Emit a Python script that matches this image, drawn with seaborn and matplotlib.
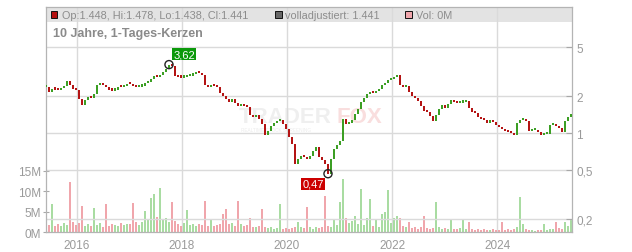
import numpy as np
import pandas as pd
import matplotlib
matplotlib.use("Agg")
import matplotlib.pyplot as plt
from matplotlib.patches import Rectangle
from matplotlib.ticker import NullLocator
import seaborn as sns

# ---------------- data ----------------
start_date = "2015-06-01"
end_date = "2025-05-27"

close = [
    2.38, 2.17, 2.29, 2.27, 2.25, 2.34, 2.43, 2.66, 2.47, 2.29,
    2.25, 1.90, 1.70, 1.87, 1.97, 1.95, 2.09, 2.47, 2.57, 2.47,
    2.38, 2.25, 2.23, 2.25, 2.38, 2.36, 2.43, 2.52, 2.50, 2.43,
    2.38, 2.40, 2.43, 2.57, 2.61, 2.76, 2.92, 2.88, 2.98, 3.15,
    3.33, 3.62, 3.50, 2.92, 2.87, 2.84, 2.87, 2.92, 2.95, 3.04,
    3.15, 3.10, 2.98, 2.47, 2.38, 2.43, 2.41, 2.38, 2.13, 2.01,
    1.90, 1.80, 1.90, 1.76, 1.67, 1.70, 1.68, 1.64, 1.41, 1.36,
    1.41, 1.31, 1.19, 0.97, 1.04, 1.15, 1.21, 1.26, 1.28, 1.19,
    1.08, 0.93, 0.82, 0.56, 0.62, 0.65, 0.64, 0.62, 0.65, 0.72,
    0.77, 0.64, 0.61, 0.56, 0.47, 0.62, 0.75, 0.80, 0.87, 1.31,
    1.19, 1.21, 1.28, 1.44, 1.58, 1.80, 1.94, 2.09, 2.17, 2.14,
    2.21, 2.29, 2.47, 2.57, 2.71, 2.76, 2.87, 2.98, 2.47, 2.38,
    2.43, 2.17, 2.01, 1.94, 1.83, 1.67, 1.52, 1.49, 1.38, 1.26,
    1.41, 1.58, 1.70, 1.61, 1.73, 1.87, 1.80, 1.76, 1.78, 1.80,
    1.83, 1.61, 1.49, 1.46, 1.36, 1.31, 1.28, 1.21, 1.28, 1.24,
    1.17, 1.13, 1.08, 1.04, 1.03, 1.01, 0.97, 1.21, 1.28, 1.31,
    1.26, 1.04, 1.06, 1.06, 1.03, 0.97, 0.98, 0.99, 1.17, 1.19,
    1.15, 1.10, 1.03, 1.26, 1.36, 1.441,
]

volume_m = [
    3.7, 1.8, 6.9, 1.5, 2.0, 1.6, 2.2, 1.8, 12.2, 2.5,
    1.7, 2.3, 6.5, 1.6, 2.0, 1.5, 6.0, 1.8, 2.2, 1.4,
    6.9, 1.6, 2.0, 1.8, 1.5, 2.3, 1.7, 2.0, 1.9, 7.1,
    2.4, 1.8, 2.6, 5.2, 3.0, 8.4, 9.3, 3.8, 10.8, 3.2,
    3.5, 2.6, 7.5, 2.8, 2.0, 1.6, 2.2, 5.4, 1.8, 2.1,
    1.5, 2.0, 1.7, 7.7, 1.6, 3.0, 1.5, 1.8, 2.0, 4.5,
    5.6, 1.9, 2.2, 1.6, 7.6, 2.0, 1.5, 1.8, 3.5, 1.4,
    1.2, 1.6, 5.6, 1.3, 1.0, 1.2, 0.9, 1.1, 6.9, 0.8,
    1.0, 0.7, 1.1, 1.4, 2.5, 1.3, 1.0, 6.2, 1.2, 0.9,
    1.4, 1.0, 1.3, 8.9, 1.5, 1.2, 3.0, 1.8, 7.3, 13.0,
    3.5, 2.2, 2.8, 4.0, 2.0, 10.6, 1.8, 3.5, 8.1, 1.6,
    3.0, 1.4, 4.5, 5.0, 10.3, 2.2, 3.5, 4.0, 3.5, 1.5,
    1.2, 2.5, 1.0, 1.3, 0.9, 1.2, 4.0, 1.0, 0.8, 1.1,
    7.4, 1.2, 0.9, 1.0, 0.8, 3.0, 0.9, 0.7, 1.0, 3.0,
    0.8, 2.5, 0.7, 0.6, 0.8, 0.5, 0.7, 0.6, 0.5, 0.7,
    0.6, 0.5, 2.5, 0.6, 0.8, 0.5, 0.9, 1.2, 8.6, 2.0,
    0.7, 0.5, 0.6, 0.4, 0.5, 0.6, 2.0, 0.5, 0.7, 0.9,
    2.5, 1.0, 0.8, 2.5, 1.5, 3.0,
]

price_ticks = [0.2, 0.5, 1, 2, 5]
price_tick_labels = ["0,2", "0,5", "1", "2", "5"]
vol_ticks = [0, 5, 10, 15]
vol_tick_labels = ["0M", "5M", "10M", "15M"]
year_ticks = ["2016-01-01", "2018-01-01", "2020-01-01", "2022-01-01", "2024-01-01"]
year_labels = ["2016", "2018", "2020", "2022", "2024"]
x_range = ["2015-05-30", "2025-06-03"]
price_range = [0.157, 10.58]
vol_range = [0, 54.8]

title_text = "10 Jahre, 1-Tages-Kerzen"
header_ohlc = "Op:1.448, Hi:1.478, Lo:1.438, Cl:1.441"
header_adj = "volladjustiert: 1.441"
header_vol = "Vol: 0M"

# ---------------- styling ----------------
sns.set_style("white")
plt.rcParams["font.family"] = ["Liberation Sans", "DejaVu Sans"]

C_UP = "#3c9f24"
C_DN = "#b41414"
V_UP = "#a9dca2"
V_DN = "#f0a6ac"
GRID = "#dadada"
TXT = "#9a9a9a"

df = pd.DataFrame({
    "date": pd.date_range(start_date, end_date, periods=len(close)),
    "close": close,
    "volume": volume_m,
})
df["open"] = df["close"].shift(1).fillna(df["close"].iloc[0])
df["up"] = df["close"] >= df["open"]
df["lo"] = df[["open", "close"]].min(axis=1)
df["hi"] = np.maximum(df[["open", "close"]].max(axis=1), df["lo"] * 1.04)

step = (df["date"].iloc[1] - df["date"].iloc[0]).days

W, H = 632, 253
fig = plt.figure(figsize=(W / 100, H / 100), dpi=100)
L, R, T, B = 45.7, 572.0, 8.3, 233.3
ax_v = fig.add_axes([L / W, 1 - B / H, (R - L) / W, (B - T) / H])
ax_p = ax_v.twinx()

# header band and watermark (behind data)
ax_v.add_patch(Rectangle((0, 1 - 14.4 / (B - T)), 1, 14.4 / (B - T),
                         transform=ax_v.transAxes, fc="#e3e3e3", ec="none", zorder=0.2))
ax_v.text(0.367, 0.49, "TRADER", transform=ax_v.transAxes, fontsize=16, fontweight="bold",
          color="#efefef", zorder=0.3, va="baseline")
ax_v.text(0.553, 0.49, "FOX", transform=ax_v.transAxes, fontsize=16, fontweight="bold",
          color="#f9dede", zorder=0.3, va="baseline")
ax_v.text(0.372, 0.452, "REALTIME STOCK SCREENING", transform=ax_v.transAxes, fontsize=3.4,
          color="#ececec", zorder=0.3, va="baseline")

# volume bars
ax_v.bar(df["date"], df["volume"], width=step * 1.0,
         color=np.where(df["up"], V_UP, V_DN), linewidth=0, zorder=2)
ax_v.set_ylim(*vol_range)
ax_v.set_yticks(vol_ticks)
ax_v.set_yticklabels(vol_tick_labels)
ax_v.set_xlim(pd.Timestamp(x_range[0]), pd.Timestamp(x_range[1]))
ax_v.set_xticks(pd.to_datetime(year_ticks))
ax_v.set_xticklabels(year_labels)
ax_v.set_axisbelow(True)
ax_v.grid(axis="x", color=GRID, linewidth=1.0)
ax_v.grid(axis="y", visible=False)
for s in ax_v.spines.values():
    s.set_visible(False)
ax_v.tick_params(axis="y", left=True, direction="inout", length=5, width=0.8, color="#a8a8a8",
                 labelcolor=TXT, labelsize=8.5, pad=1)
ax_v.tick_params(axis="x", bottom=False, labelcolor=TXT, labelsize=8.5, pad=1.5)

# candles
ax_p.set_yscale("log")
ax_p.bar(df["date"], df["hi"] - df["lo"], bottom=df["lo"], width=step * 0.95,
         color=np.where(df["up"], C_UP, C_DN), linewidth=0, zorder=3)
ax_p.set_ylim(*price_range)
ax_p.set_yticks(price_ticks)
ax_p.set_yticklabels(price_tick_labels)
ax_p.yaxis.set_minor_locator(NullLocator())
ax_p.set_axisbelow(True)
ax_p.grid(axis="y", which="major", color=GRID, linewidth=1.0)
ax_p.grid(axis="x", visible=False)
for s in ax_p.spines.values():
    s.set_color("#b4b4b4")
    s.set_linewidth(0.9)
ax_p.tick_params(axis="y", right=True, direction="in", length=4, width=0.8, color="#a8a8a8",
                 labelcolor=TXT, labelsize=8.5, pad=3)

# extremes
imax = int(df["close"].idxmax())
imin = int(df["close"].idxmin())
sns.scatterplot(x=[df["date"][imax], df["date"][imin]],
                y=[df["close"][imax], df["close"][imin]],
                ax=ax_p, s=34, marker="o", facecolors="none", edgecolor="#222222",
                linewidth=1.0, zorder=6)
ax_p.annotate(f"{df['close'][imax]:.2f}".replace(".", ","),
              xy=(df["date"][imax], df["close"][imax]), xytext=(11.0, 7.6),
              textcoords="offset points", ha="center", va="center", color="white", fontsize=8,
              bbox=dict(boxstyle="square,pad=0.12", fc="#0b990b", ec="none"), zorder=7)
ax_p.annotate(f"{df['close'][imin]:.2f}".replace(".", ","),
              xy=(df["date"][imin], df["close"][imin]), xytext=(-10.8, -7.3),
              textcoords="offset points", ha="center", va="center", color="white", fontsize=8,
              bbox=dict(boxstyle="square,pad=0.12", fc="#cc0000", ec="none"), zorder=7)

# header legend and title
yc = 1 - 15.7 / H
for (x0, fc, label, xt) in [(50.7, "#b31010", header_ohlc, 62.0),
                            (275.0, "#666666", header_adj, 285.0),
                            (405.3, "#f0a6ac", header_vol, 416.5)]:
    fig.patches.append(Rectangle((x0 / W, yc - 3.3 / H), 6.6 / W, 6.6 / H,
                                 transform=fig.transFigure, fc=fc, ec="#111111", lw=0.7))
    fig.text(xt / W, yc, label, fontsize=7.8, color="#8c8c8c", va="center", ha="left")
fig.text(53.3 / W, 1 - 33.5 / H, title_text, fontsize=9, fontweight="bold", color="#8a8a8a",
         va="center", ha="left")

fig.savefig("out.png", dpi=100)
